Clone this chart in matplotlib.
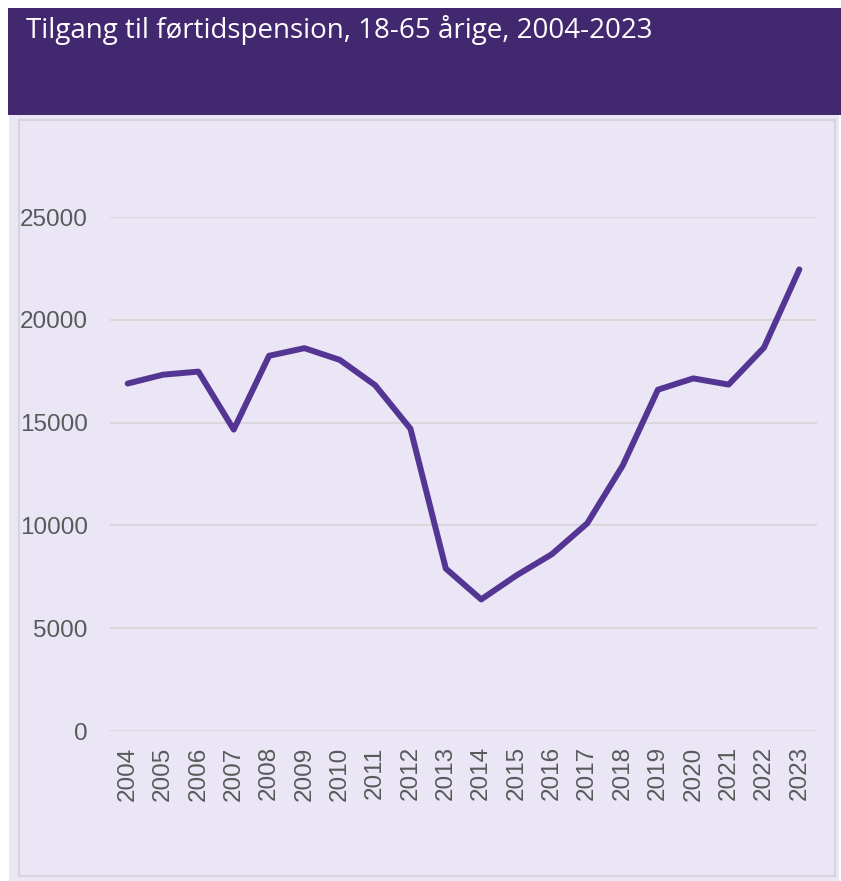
import matplotlib.pyplot as plt
from matplotlib.patches import Rectangle

years = [str(y) for y in range(2004, 2024)]
values = [16900, 17330, 17480, 14660, 18250, 18620, 18050, 16820, 14700, 7900,
          6400, 7570, 8600, 10100, 12900, 16600, 17150, 16850, 18650, 22450]
yticks = [0, 5000, 10000, 15000, 20000, 25000]

W, H = 841, 881
fig = plt.figure(figsize=(W / 100, H / 100), dpi=100)
fig.patch.set_facecolor('white')


def px_rect(x0, y0, x1, y1, **kw):
    # rectangle given in pixel coords from top-left
    r = Rectangle((x0 / W, 1 - y1 / H), (x1 - x0) / W, (y1 - y0) / H,
                  transform=fig.transFigure, **kw)
    fig.add_artist(r)


# panel and header
px_rect(9, 115, 839, 881, facecolor='#ebe6f5', edgecolor='none', zorder=0)
px_rect(19, 120, 835, 876, facecolor='none', edgecolor='#d6d3dc', lw=1.5, zorder=0.5)
px_rect(8, 8, 841, 115, facecolor='#41286f', edgecolor='none', zorder=1)
fig.text(26 / W, 1 - 15 / H, 'Tilgang til førtidspension, 18-65 årige, 2004-2023',
         color='white', fontsize=20, family='Open Sans', va='top', ha='left')

ax = fig.add_axes([110 / W, (H - 731) / H, 707 / W, 514 / H])
ax.set_facecolor('none')
x = range(len(years))
ax.plot(x, values, color='#553593', lw=4.3, solid_joinstyle='round',
        solid_capstyle='round', clip_on=False, zorder=3)
ax.set_xlim(-0.5, len(years) - 0.5)
ax.set_ylim(0, 25000)
ax.set_yticks(yticks)
ax.set_yticklabels([str(v) for v in yticks])
ax.set_xticks(list(x))
ax.set_xticklabels(years, rotation=90)
ax.grid(axis='y', color='#d9d6dc', lw=1.5)
ax.set_axisbelow(True)
for s in ax.spines.values():
    s.set_visible(False)
ax.tick_params(length=0, labelsize=17.5, labelcolor='#595959')
ax.tick_params(axis='y', pad=16)
ax.tick_params(axis='x', pad=11)
for lab in ax.get_xticklabels() + ax.get_yticklabels():
    lab.set_family('Liberation Sans')

fig.savefig('out.png', dpi=100)
